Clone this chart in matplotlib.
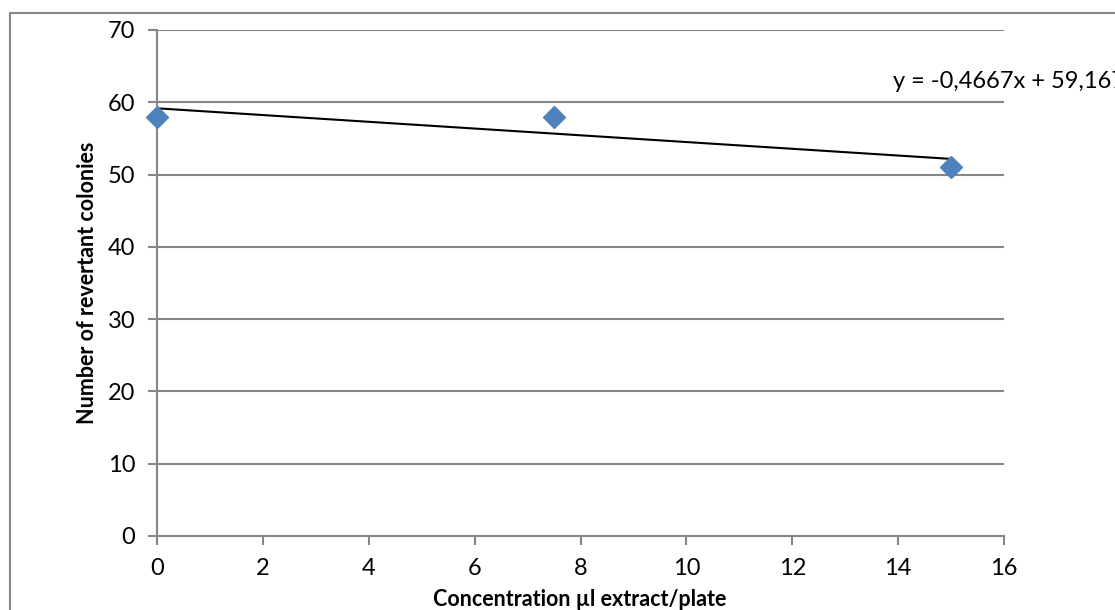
import matplotlib
matplotlib.use("Agg")
import matplotlib.pyplot as plt
import numpy as np
from matplotlib.patches import Rectangle

conc = [0, 7.5, 15]
colonies = [58, 58, 51]
x_ticks = [0, 2, 4, 6, 8, 10, 12, 14, 16]
y_ticks = [0, 10, 20, 30, 40, 50, 60, 70]

plt.rcParams['font.family'] = ['Lato', 'DejaVu Sans']

W, H = 1115, 610
fig = plt.figure(figsize=(W / 100, H / 100), dpi=100)
fig.patches.append(Rectangle((10 / W, -0.1), 1.2, 1 - 13 / H + 0.1, transform=fig.transFigure,
                             fill=False, edgecolor='#868686', linewidth=1.5))
ax = fig.add_axes([157 / W, 1 - 536 / H, (1004 - 157) / W, (536 - 30) / H])

ax.set_xlim(0, 16)
ax.set_ylim(0, 70)
ax.set_xticks(x_ticks)
ax.set_yticks(y_ticks)
ax.grid(axis='y', color='#868686', linewidth=1.5)
ax.set_axisbelow(True)
for s in ['top', 'right']:
    ax.spines[s].set_visible(False)
for s in ['left', 'bottom']:
    ax.spines[s].set_color('#868686')
    ax.spines[s].set_linewidth(1.5)
ax.tick_params(axis='both', direction='out', length=6.5, width=1.5, color='#868686',
               labelsize=17)
ax.tick_params(axis='y', pad=9)
ax.tick_params(axis='x', pad=9)

slope, intercept = np.polyfit(conc, colonies, 1)
xs = np.array([min(conc), max(conc)])
ax.plot(xs, slope * xs + intercept, color='black', linewidth=1.5, zorder=3)
ax.plot(conc, colonies, linestyle='none', marker='D', markersize=11,
        color='#4F81BD', markeredgecolor='#4F81BD', zorder=4, clip_on=False)

eq = "y = {:.4f}x + {:.3f}".format(slope, intercept).replace('.', ',').replace('+ -', '- ')
ax.text(893 / W, 1 - 82 / H, eq, transform=fig.transFigure, fontsize=17,
        ha='left', va='center')

fig.text(580 / W, 1 - 600 / H, 'Concentration µl extract/plate', fontsize=15.5,
         fontweight='bold', ha='center', va='center')
fig.text(88 / W, 1 - 283 / H, 'Number of revertant colonies', fontsize=15.5,
         fontweight='bold', ha='center', va='center', rotation=90)

fig.savefig('out.png', dpi=100)
